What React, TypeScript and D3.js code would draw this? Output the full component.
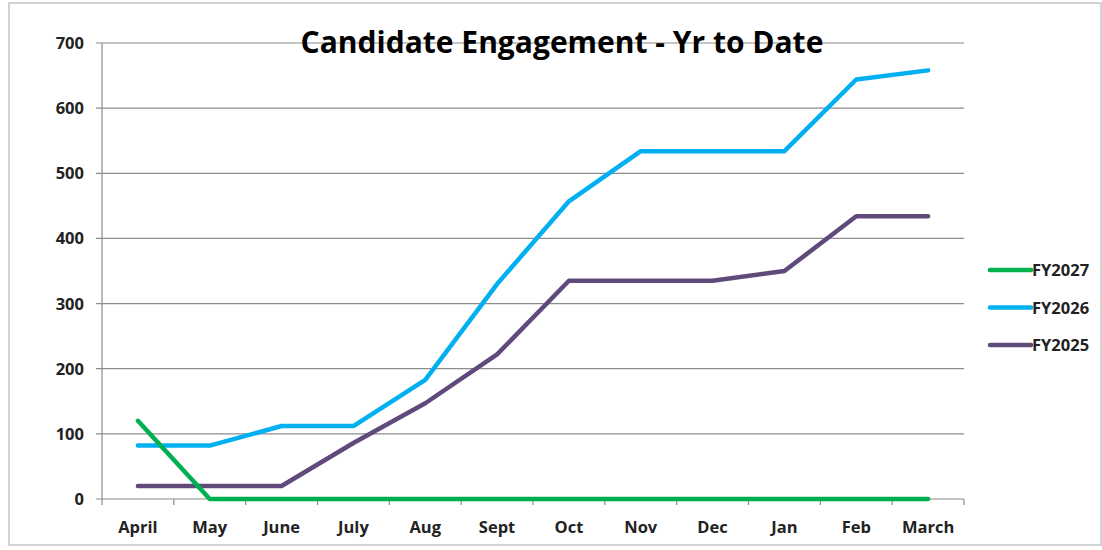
import React from "react";
import * as d3 from "d3";

const months = ["April", "May", "June", "July", "Aug", "Sept", "Oct", "Nov", "Dec", "Jan", "Feb", "March"];
const fy2027 = [120, 0, 0, 0, 0, 0, 0, 0, 0, 0, 0, 0];
const fy2026 = [82, 82, 112, 112, 183, 330, 457, 534, 534, 534, 644, 658];
const fy2025 = [20, 20, 20, 86, 147, 222, 335, 335, 335, 350, 434, 434];
const yTicks = [0, 100, 200, 300, 400, 500, 600, 700];
const seriesNames = ["FY2027", "FY2026", "FY2025"];
const seriesColors = ["#00B050", "#00B0F0", "#604A7B"];

export default function App() {
  const W = 1102, H = 550;
  const left = 102, right = 964, top = 43, bottom = 499;
  const x = d3.scaleBand<string>().domain(months).range([left, right]);
  const y = d3.scaleLinear().domain([0, 700]).range([bottom, top]);
  const seriesData = [fy2027, fy2026, fy2025];
  const line = d3
    .line<number>()
    .x((_, i) => (x(months[i]) as number) + x.bandwidth() / 2)
    .y((d) => y(d));
  const font = "'Open Sans', sans-serif";
  const boundaries = months.map((m) => x(m) as number).concat([right]);
  return (
    <svg width={W} height={H} style={{ position: "absolute", left: 0, top: 0 }} fontFamily={font}>
      <rect x={0} y={0} width={W} height={H} fill="#fff" />
      <rect x={9} y={3} width={W - 10} height={542} fill="#fff" stroke="#a6a6a6" strokeWidth={1} />
      {yTicks.map((t) => (
        <g key={t}>
          <line x1={left - 6} x2={right} y1={y(t)} y2={y(t)} stroke="#8c8c8c" strokeWidth={1.2} />
          <text x={84} y={y(t) + 6} textAnchor="end" fontSize={16.5} fontWeight="bold" fill="#222">
            {t}
          </text>
        </g>
      ))}
      <line x1={left} x2={left} y1={top} y2={bottom} stroke="#8c8c8c" strokeWidth={1.2} />
      {boundaries.map((b, i) => (
        <line key={i} x1={b} x2={b} y1={bottom} y2={bottom + 6} stroke="#8c8c8c" strokeWidth={1.2} />
      ))}
      {months.map((m) => (
        <text
          key={m}
          x={(x(m) as number) + x.bandwidth() / 2}
          y={533}
          textAnchor="middle"
          fontSize={16.5}
          fontWeight="bold"
          fill="#222"
        >
          {m}
        </text>
      ))}
      {[2, 1, 0].map((si) => (
        <path
          key={si}
          d={line(seriesData[si]) || ""}
          fill="none"
          stroke={seriesColors[si]}
          strokeWidth={4.5}
          strokeLinejoin="round"
          strokeLinecap="round"
        />
      ))}
      <text x={562} y={53} textAnchor="middle" fontSize={30} fontWeight="bold" fill="#000">
        Candidate Engagement - Yr to Date
      </text>
      {seriesNames.map((n, i) => {
        const ly = 270 + i * 37.5;
        return (
          <g key={n}>
            <line x1={990} x2={1031} y1={ly} y2={ly} stroke={seriesColors[i]} strokeWidth={4.5} strokeLinecap="round" />
            <text x={1032} y={ly + 6} fontSize={16.5} fontWeight="bold" fill="#222">
              {n}
            </text>
          </g>
        );
      })}
    </svg>
  );
}
